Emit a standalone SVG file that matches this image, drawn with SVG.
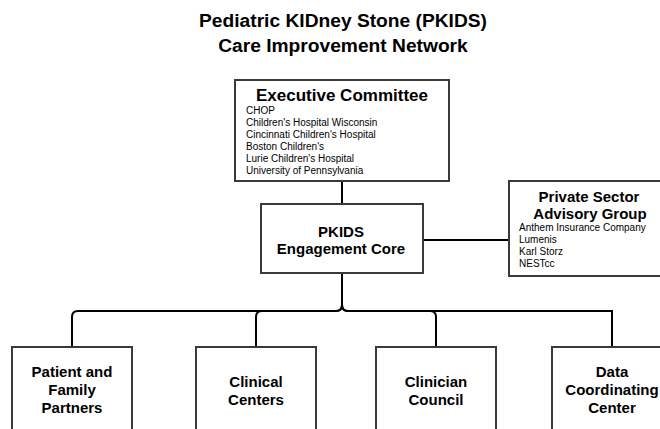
<svg xmlns="http://www.w3.org/2000/svg" width="660" height="429" viewBox="0 0 660 429">
<style>
text{font-family:"Liberation Sans",Arial,Helvetica,sans-serif;fill:#000}
.title{font-size:19.2px;font-weight:bold;text-anchor:middle}
.h{font-weight:bold;text-anchor:middle;font-size:15px}
.h17{font-weight:bold;text-anchor:middle;font-size:17px}
.m{font-size:10px}
.box{fill:#fff;stroke:#3a3a3a;stroke-width:2}
.c{fill:none;stroke:#000;stroke-width:2}
</style>
<rect width="660" height="429" fill="#fff"/>
<g id="title">
<text class="title" x="343" y="27">Pediatric KIDney Stone (PKIDS)</text>
<text class="title" x="343" y="52">Care Improvement Network</text>
</g>
<g id="connectors">
<line class="c" x1="342" y1="181" x2="342" y2="204"/>
<line class="c" x1="423" y1="240" x2="509" y2="240"/>
<path class="c" d="M342,273 V305 Q342,311 336,311 H78 Q72,311 72,317 V347"/>
<path class="c" d="M342,273 V305 Q342,311 336,311 H262 Q256,311 256,317 V347"/>
<path class="c" d="M342,273 V305 Q342,311 348,311 H430 Q436,311 436,317 V347"/>
<path class="c" d="M342,273 V305 Q342,311 348,311 H612 V347"/>
</g>
<g id="exec">
<rect class="box" x="235" y="80" width="214" height="101"/>
<text class="h17" x="342" y="101">Executive Committee</text>
<text class="m" x="246" y="113.5">CHOP</text>
<text class="m" x="246" y="125.5">Children's Hospital Wisconsin</text>
<text class="m" x="246" y="137.5">Cincinnati Children's Hospital</text>
<text class="m" x="246" y="149.5">Boston Children's</text>
<text class="m" x="246" y="161.5">Lurie Children's Hospital</text>
<text class="m" x="246" y="173.5">University of Pennsylvania</text>
</g>
<g id="core">
<rect class="box" x="261" y="204" width="162" height="69"/>
<text class="h" x="341" y="237">PKIDS</text>
<text class="h" x="341" y="254">Engagement Core</text>
</g>
<g id="private">
<rect class="box" x="509" y="181" width="165" height="95"/>
<text class="h" x="589" y="201.5">Private Sector</text>
<text class="h" x="590" y="218.5">Advisory Group</text>
<text class="m" x="519" y="230.5">Anthem Insurance Company</text>
<text class="m" x="519" y="242.5">Lumenis</text>
<text class="m" x="519" y="254.5">Karl Storz</text>
<text class="m" x="519" y="266.5">NESTcc</text>
</g>
<g id="patient">
<rect class="box" x="12" y="347" width="120" height="90"/>
<text class="h" x="72" y="377">Patient and</text>
<text class="h" x="72" y="395">Family</text>
<text class="h" x="72" y="413">Partners</text>
</g>
<g id="clinical">
<rect class="box" x="196" y="347" width="120" height="90"/>
<text class="h" x="256" y="387">Clinical</text>
<text class="h" x="256" y="405">Centers</text>
</g>
<g id="council">
<rect class="box" x="376" y="347" width="120" height="90"/>
<text class="h" x="436" y="387">Clinician</text>
<text class="h" x="436" y="405">Council</text>
</g>
<g id="data">
<rect class="box" x="552" y="347" width="120" height="90"/>
<text class="h" x="612" y="377">Data</text>
<text class="h" x="612" y="395">Coordinating</text>
<text class="h" x="612" y="413">Center</text>
</g>
</svg>
